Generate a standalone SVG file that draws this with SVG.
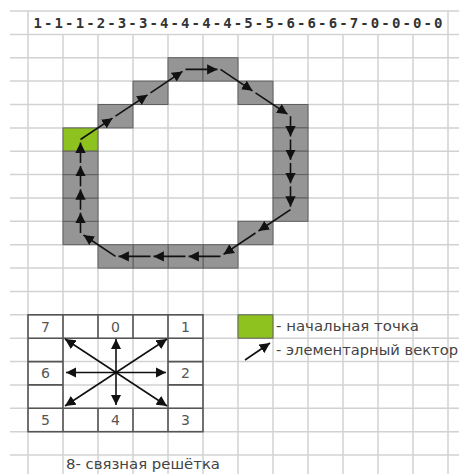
<svg xmlns="http://www.w3.org/2000/svg" width="459" height="474" viewBox="0 0 459 474">
<defs>
<style>
.g{stroke:#d2d2d2;stroke-width:1.5;fill:none}
.c{fill:#959595;stroke:#5e5e5e;stroke-width:1}
.st{fill:#8dc21f;stroke:#5e5e5e;stroke-width:1}
.a{stroke:#111;stroke-width:1.6;fill:none;marker-end:url(#ah)}
.b{stroke:#555;stroke-width:1.6;fill:none}
.n{font-family:"DejaVu Sans","Liberation Sans",sans-serif;font-size:14px;fill:#555;text-anchor:middle}
.t{font-family:"DejaVu Sans","Liberation Sans",sans-serif;font-size:14px;fill:#444}
</style>
<marker id="ah" viewBox="0 0 10 10" refX="10" refY="5" markerWidth="6.5" markerHeight="6.5" markerUnits="strokeWidth" orient="auto">
<path d="M0,0 L10,5 L0,10 Z" fill="#111"/>
</marker>
</defs>
<rect width="459" height="474" fill="#fff"/>
<g id="grid" class="g">
<path d="M10 11H459M10 34.4H459M10 57.7H459M10 81.1H459M10 104.5H459M10 127.9H459M10 151.2H459M10 174.6H459M10 198H459M10 221.3H459M10 244.7H459M10 268.1H459M10 291.4H459M10 314.8H459M10 338.2H459M10 361.6H459M10 384.9H459M10 408.3H459M10 431.7H459M10 455H459"/>
<path d="M28 11V474M448 11V474M63 34.4V474M98 34.4V474M133 34.4V474M168 34.4V474M203 34.4V474M238 34.4V474M273 34.4V474M308 34.4V474M343 34.4V474M378 34.4V474M413 34.4V474"/>
</g>
<g id="header">
<text x="238" y="28" text-anchor="middle" textLength="409" lengthAdjust="spacing" font-family="'DejaVu Sans Mono','Liberation Mono',monospace" font-weight="bold" font-size="14" fill="#333">1-1-1-2-3-3-4-4-4-4-5-5-6-6-6-7-0-0-0-0</text>
</g>
<g id="contour">
<rect id="start" class="st" x="63" y="127.9" width="35" height="23.3"/>
<rect id="p1" class="c" x="98" y="104.5" width="35" height="23.4"/>
<rect id="p2" class="c" x="133" y="81.1" width="35" height="23.4"/>
<rect id="p3" class="c" x="168" y="57.7" width="35" height="23.4"/>
<rect id="p4" class="c" x="203" y="57.7" width="35" height="23.4"/>
<rect id="p5" class="c" x="238" y="81.1" width="35" height="23.4"/>
<rect id="p6" class="c" x="273" y="104.5" width="35" height="23.4"/>
<rect id="p7" class="c" x="273" y="127.9" width="35" height="23.3"/>
<rect id="p8" class="c" x="273" y="151.2" width="35" height="23.4"/>
<rect id="p9" class="c" x="273" y="174.6" width="35" height="23.4"/>
<rect id="p10" class="c" x="273" y="198" width="35" height="23.3"/>
<rect id="p11" class="c" x="238" y="221.3" width="35" height="23.4"/>
<rect id="p12" class="c" x="203" y="244.7" width="35" height="23.4"/>
<rect id="p13" class="c" x="168" y="244.7" width="35" height="23.4"/>
<rect id="p14" class="c" x="133" y="244.7" width="35" height="23.4"/>
<rect id="p15" class="c" x="98" y="244.7" width="35" height="23.4"/>
<rect id="p16" class="c" x="63" y="221.3" width="35" height="23.4"/>
<rect id="p17" class="c" x="63" y="198" width="35" height="23.3"/>
<rect id="p18" class="c" x="63" y="174.6" width="35" height="23.4"/>
<rect id="p19" class="c" x="63" y="151.2" width="35" height="23.4"/>
</g>
<g id="connectors">
<line class="a" x1="80.5" y1="139.5" x2="112.5" y2="118.2"/>
<line class="a" x1="115.5" y1="116.2" x2="147.5" y2="94.8"/>
<line class="a" x1="150.5" y1="92.8" x2="182.5" y2="71.4"/>
<line class="a" x1="185.5" y1="69.4" x2="217.5" y2="69.4"/>
<line class="a" x1="220.5" y1="69.4" x2="252.5" y2="90.8"/>
<line class="a" x1="255.5" y1="92.8" x2="287.5" y2="114.2"/>
<line class="a" x1="290.5" y1="116.2" x2="290.5" y2="136.5"/>
<line class="a" x1="290.5" y1="139.5" x2="290.5" y2="159.9"/>
<line class="a" x1="290.5" y1="162.9" x2="290.5" y2="183.3"/>
<line class="a" x1="290.5" y1="186.3" x2="290.5" y2="206.7"/>
<line class="a" x1="290.5" y1="209.7" x2="258.5" y2="231"/>
<line class="a" x1="255.5" y1="233" x2="223.5" y2="254.4"/>
<line class="a" x1="220.5" y1="256.4" x2="188.5" y2="256.4"/>
<line class="a" x1="185.5" y1="256.4" x2="153.5" y2="256.4"/>
<line class="a" x1="150.5" y1="256.4" x2="118.5" y2="256.4"/>
<line class="a" x1="115.5" y1="256.4" x2="83.5" y2="235"/>
<line class="a" x1="80.5" y1="233" x2="80.5" y2="212.7"/>
<line class="a" x1="80.5" y1="209.7" x2="80.5" y2="189.3"/>
<line class="a" x1="80.5" y1="186.3" x2="80.5" y2="165.9"/>
<line class="a" x1="80.5" y1="162.9" x2="80.5" y2="142.5"/>
</g>
<g id="directions">
<rect x="28" y="314.8" width="175" height="116.9" fill="#fff" class="b"/>
<path class="b" d="M28 338.2H203M28 408.3H203M28 361.6H63M168 361.6H203M28 384.9H63M168 384.9H203M63 314.8V431.7M168 314.8V431.7M98 314.8V338.2M133 314.8V338.2M98 408.3V431.7M133 408.3V431.7"/>
<text class="n" x="45.5" y="331.5">7</text>
<text class="n" x="115.5" y="331.5">0</text>
<text class="n" x="185.5" y="331.5">1</text>
<text class="n" x="45.5" y="378">6</text>
<text class="n" x="185.5" y="378">2</text>
<text class="n" x="45.5" y="425">5</text>
<text class="n" x="115.5" y="425">4</text>
<text class="n" x="185.5" y="425">3</text>
<line class="a" x1="116" y1="372.5" x2="116" y2="339"/>
<line class="a" x1="116" y1="372.5" x2="167" y2="339"/>
<line class="a" x1="116" y1="372.5" x2="166" y2="372.5"/>
<line class="a" x1="116" y1="372.5" x2="167" y2="406"/>
<line class="a" x1="116" y1="372.5" x2="116" y2="405"/>
<line class="a" x1="116" y1="372.5" x2="65" y2="406"/>
<line class="a" x1="116" y1="372.5" x2="66" y2="372.5"/>
<line class="a" x1="116" y1="372.5" x2="65" y2="339"/>
<text class="t" x="66" y="469" font-size="13" textLength="154" lengthAdjust="spacingAndGlyphs">8- связная решётка</text>
</g>
<g id="legend">
<rect class="st" x="238" y="314.8" width="35" height="23.4"/>
<text class="t" x="276" y="331" textLength="143" lengthAdjust="spacingAndGlyphs">- начальная точка</text>
<line class="a" x1="245" y1="360" x2="270" y2="343"/>
<text class="t" x="276" y="355" textLength="182" lengthAdjust="spacingAndGlyphs">- элементарный вектор</text>
</g>
</svg>
